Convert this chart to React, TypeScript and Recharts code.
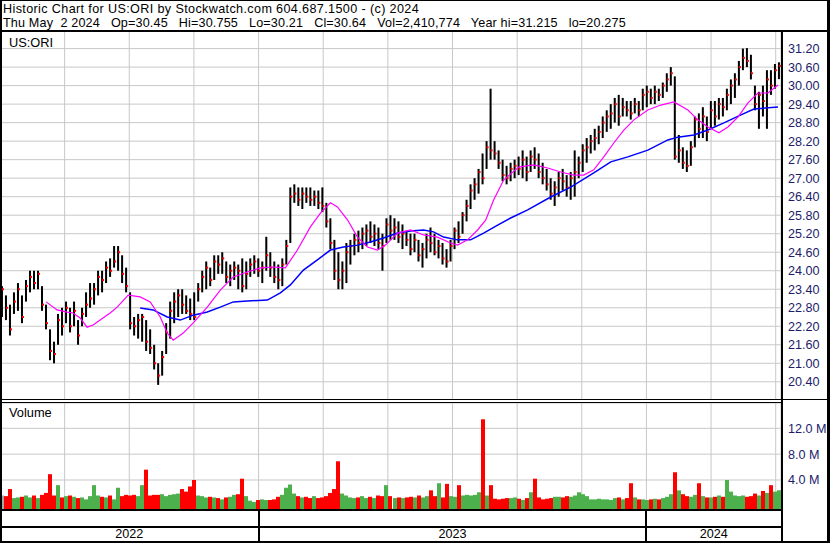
import React from 'react';
import { ComposedChart, Bar, Line, XAxis, YAxis, CartesianGrid } from 'recharts';

// US:ORI, May 2022 - May 2 2024, one bar per ~2.6 sessions
const highs = [
  23.5, 23.2, 22.9, 23.3, 23.6, 23.2, 23.7, 24.0, 24.0, 24.0,
  23.5, 22.9, 22.1, 21.7, 22.6, 22.8, 23.0, 22.8, 23.0, 22.4,
  22.8, 23.3, 23.6, 23.6, 24.0, 24.0, 24.3, 24.4, 24.8, 24.8,
  24.5, 24.1, 23.3, 22.5, 22.6, 22.6, 22.4, 22.1, 21.6, 21.0,
  21.4, 22.3, 23.0, 23.3, 23.4, 23.4, 23.2, 23.1, 23.3, 23.6,
  24.0, 24.3, 24.1, 24.5, 24.5, 24.6, 24.3, 24.2, 24.3, 24.2,
  24.4, 24.3, 24.4, 24.5, 24.4, 24.3, 25.1, 24.6, 24.3, 24.2,
  24.4, 25.0, 26.7, 26.8, 26.7, 26.7, 26.7, 26.7, 26.6, 26.6,
  26.7, 26.2, 25.7, 25.0, 24.6, 24.3, 24.9, 25.0, 25.2, 25.3,
  25.4, 25.5, 25.6, 25.5, 25.4, 25.2, 25.7, 25.8, 25.7, 25.6,
  25.5, 25.3, 25.2, 25.2, 25.0, 24.9, 25.2, 25.4, 25.2, 25.0,
  24.9, 24.7, 25.0, 25.4, 25.6, 25.9, 26.3, 26.8, 27.0, 27.3,
  27.8, 28.2, 29.9, 28.2, 27.9, 27.6, 27.4, 27.5, 27.6, 27.7,
  27.9, 27.7, 27.9, 28.0, 27.8, 27.5, 27.3, 27.0, 26.9, 27.2,
  27.3, 27.1, 27.2, 27.9, 27.7, 28.1, 28.3, 28.4, 28.6, 28.7,
  29.0, 29.2, 29.4, 29.6, 29.7, 29.6, 29.5, 29.5, 29.6, 29.5,
  29.9, 30.0, 29.9, 30.0, 29.9, 30.1, 30.4, 30.6, 30.3, 28.4,
  28.0, 27.9, 28.2, 29.0, 29.1, 29.3, 29.0, 29.5, 29.5, 29.6,
  29.6, 29.9, 30.2, 30.4, 30.8, 31.2, 31.215, 31.0, 30.0, 29.8,
  30.0, 30.5, 30.5, 30.7, 30.755,
];

const lows = [
  22.5, 22.4, 21.9, 22.6, 22.7, 22.3, 23.0, 23.3, 23.4, 23.4,
  22.7, 22.1, 21.1, 21.0, 21.6, 21.9, 22.3, 22.0, 22.2, 21.6,
  22.2, 22.5, 22.8, 22.9, 23.2, 23.3, 23.6, 23.8, 24.1, 24.0,
  23.6, 23.3, 22.1, 21.9, 21.8, 21.7, 21.4, 21.3, 20.8, 20.3,
  20.6, 21.3, 21.8, 22.3, 22.5, 22.6, 22.6, 22.4, 22.4, 23.0,
  23.3, 23.4, 23.5, 23.7, 23.9, 23.9, 23.6, 23.5, 23.7, 23.4,
  23.3, 23.4, 23.8, 23.9, 23.8, 23.6, 24.0, 23.8, 23.6, 23.4,
  23.5, 24.2, 24.9, 26.2, 26.1, 26.0, 26.2, 26.1, 26.1, 26.0,
  25.9, 25.4, 24.7, 23.7, 23.4, 23.4, 23.6, 24.2, 24.5, 24.6,
  24.7, 24.8, 24.9, 24.8, 24.7, 24.0, 24.9, 25.0, 25.0, 24.9,
  24.7, 24.8, 24.5, 24.6, 24.3, 24.1, 24.4, 24.6, 24.5, 24.4,
  24.2, 24.1, 24.3, 24.7, 24.9, 25.2, 25.6, 26.0, 26.3, 26.5,
  26.8, 27.3, 27.6, 27.6, 27.3, 26.9, 26.8, 26.9, 27.0, 27.1,
  27.0, 26.9, 27.2, 27.3, 27.0, 26.8, 26.6, 26.3, 26.1, 26.4,
  26.6, 26.4, 26.3, 26.4, 27.0, 27.2, 27.5, 27.8, 27.9, 28.1,
  28.3, 28.5, 28.6, 28.8, 28.7, 29.0, 29.0, 28.9, 29.1, 29.0,
  29.2, 29.3, 29.4, 29.4, 29.5, 29.6, 29.8, 30.0, 27.6, 27.5,
  27.3, 27.2, 27.4, 28.0, 28.3, 28.3, 28.2, 28.6, 28.7, 28.9,
  29.0, 29.2, 29.4, 29.6, 30.0, 30.5, 30.6, 30.2, 29.2, 28.6,
  29.0, 28.6, 29.7, 29.9, 30.21,
];

const closes = [
  23.4, 22.8, 22.1, 23.0, 23.4, 22.5, 23.5, 23.8, 23.6, 23.9,
  22.9, 22.3, 21.4, 21.3, 22.4, 22.2, 22.8, 22.2, 22.7, 21.9,
  22.6, 22.9, 23.1, 23.4, 23.8, 23.7, 24.1, 24.0, 24.3, 24.6,
  23.9, 23.5, 22.3, 22.2, 22.4, 22.5, 21.7, 21.5, 21.0, 20.6,
  21.2, 22.0, 22.7, 23.0, 23.2, 22.9, 22.7, 22.6, 22.5, 23.4,
  23.8, 24.1, 23.7, 24.3, 24.2, 24.4, 23.8, 24.0, 24.1, 24.0,
  23.5, 23.9, 24.2, 24.3, 24.0, 24.1, 24.5, 24.1, 23.8, 23.7,
  24.2, 24.8, 26.4, 26.5, 26.3, 26.5, 26.4, 26.3, 26.4, 26.2,
  26.1, 25.6, 24.9, 24.0, 23.7, 24.0, 24.6, 24.8, 25.0, 24.9,
  25.2, 25.3, 25.1, 25.2, 24.9, 24.8, 25.5, 25.3, 25.4, 25.1,
  25.2, 25.0, 24.7, 25.0, 24.5, 24.7, 25.0, 24.9, 24.6, 24.8,
  24.4, 24.3, 24.8, 25.3, 25.1, 25.8, 26.1, 26.6, 26.8, 27.2,
  27.0, 28.0, 27.9, 27.8, 27.5, 27.1, 27.0, 27.3, 27.4, 27.3,
  27.6, 27.2, 27.7, 27.6, 27.2, 27.0, 26.8, 26.5, 26.7, 27.0,
  26.9, 26.7, 27.0, 27.2, 27.5, 27.9, 28.0, 28.2, 28.3, 28.5,
  28.8, 29.0, 29.1, 29.4, 29.0, 29.3, 29.2, 29.1, 29.4, 29.2,
  29.7, 29.8, 29.6, 29.8, 29.7, 30.0, 30.2, 30.4, 27.7, 27.9,
  27.5, 27.4, 28.0, 28.9, 28.6, 29.0, 28.5, 29.2, 29.0, 29.4,
  29.3, 29.7, 30.0, 30.2, 30.6, 30.9, 30.8, 30.4, 29.4, 29.7,
  29.5, 30.2, 30.0, 30.5, 30.64,
];

// millions of shares
const volumes = [
  1.6, 1.5, 2.6, 1.2, 1.3, 1.4, 1.6, 1.3, 1.6, 1.2,
  1.7, 2.0, 4.9, 1.6, 3.2, 1.3, 1.5, 1.6, 1.4, 1.2,
  1.3, 1.0, 1.5, 3.2, 1.6, 1.4, 1.3, 1.6, 1.0, 2.8,
  1.5, 1.7, 1.6, 1.7, 1.5, 3.2, 5.6, 1.6, 1.7, 1.7,
  1.8, 1.5, 1.7, 1.8, 1.9, 2.6, 2.2, 3.0, 4.0, 1.6,
  1.5, 1.3, 1.4, 1.3, 1.2, 1.0, 1.3, 1.4, 1.7, 1.8,
  4.2, 1.5, 0.8, 0.6, 0.9, 1.0, 0.9, 0.9, 1.0, 1.4,
  1.7, 2.8, 3.3, 1.9, 1.5, 1.3, 1.4, 1.2, 1.5, 1.2,
  1.3, 1.5, 2.0, 2.6, 6.9, 1.9, 1.6, 1.3, 1.2, 1.3,
  1.5, 1.2, 1.4, 1.2, 1.6, 1.5, 3.2, 1.5, 1.2, 1.3,
  1.2, 1.3, 1.4, 1.3, 1.6, 1.3, 1.5, 2.4, 1.5, 3.5,
  1.3, 3.4, 1.5, 1.4, 3.2, 1.6, 1.7, 1.6, 1.7, 2.1,
  13.4, 1.6, 3.2, 1.1, 1.0, 1.1, 1.2, 1.2, 1.3, 1.1,
  0.9, 1.2, 2.1, 4.2, 1.3, 1.0, 1.1, 1.2, 1.4, 1.4,
  1.3, 1.5, 1.4, 1.6, 2.1, 1.8, 1.5, 1.0, 1.0, 1.1,
  1.0, 1.0, 0.9, 1.2, 1.3, 1.0, 1.2, 3.5, 1.3, 1.0,
  1.0, 0.9, 1.0, 1.1, 1.0, 1.2, 1.4, 1.8, 5.2, 2.4,
  1.8, 1.5, 1.4, 1.7, 3.5, 1.5, 1.3, 1.3, 1.4, 1.6,
  1.4, 4.0, 2.2, 1.6, 1.5, 1.6, 1.4, 1.5, 1.9, 1.6,
  2.3, 2.0, 3.2, 2.2, 2.41,
];

// moving averages, read as (bar position, value) pairs
const fastMaAt = [
  11.5, 14.25, 16.75, 18.25, 20, 21.75, 23.25, 25, 27.5, 29.25,
  32, 35, 37.5, 40, 41.75, 43.25, 45.75, 48.25, 51.75, 55,
  58.25, 61.75, 65, 68.25, 71.25, 74.25, 77.5, 80, 82.5, 84.25,
  86.75, 89.25, 91.75, 94.25, 96.25, 99.25, 102.5, 105.75, 109.25, 112.5,
  114.25, 116.75, 119.25, 121.25, 123.25, 125.75, 129.5, 133.25, 136.75, 140,
  143.25, 145.75, 148.25, 150.75, 153.25, 155.75, 158.25, 161.75, 165, 168.25,
  171.75, 174.25, 176.75, 179.5, 181.75, 184.25, 186.75, 189.25, 191.75, 194.25,
];
const fastMaValues = [
  22.99, 22.73, 22.66, 22.63, 22.47, 22.17, 22.24, 22.40, 22.63, 22.82,
  23.21, 23.15, 22.99, 22.50, 21.98, 21.75, 21.98, 22.31, 22.82, 23.37,
  23.80, 23.96, 24.09, 24.12, 24.09, 24.67, 25.42, 25.87, 26.20, 26.07,
  25.65, 25.09, 24.77, 24.67, 24.83, 25.22, 25.32, 25.16, 25.09, 24.90,
  24.83, 25.00, 25.32, 25.64, 26.29, 26.94, 27.36, 27.43, 27.33, 27.20,
  27.10, 27.10, 27.27, 27.69, 28.14, 28.56, 28.89, 29.21, 29.37, 29.47,
  29.21, 28.89, 28.66, 28.47, 28.66, 28.98, 29.44, 29.76, 29.76, 30.02,
];
const slowMaAt = [
  35, 38.25, 41.75, 45, 48.25, 51.75, 55, 58.25, 61.75, 66.75,
  70, 72.5, 75.75, 79.25, 82.5, 85.75, 89.25, 92.5, 95.75, 99.25,
  102.5, 105.75, 108.25, 110.75, 114.25, 117.5, 120.75, 124.25, 127.5, 131.75,
  137.5, 142.5, 148.25, 152.5, 156.75, 161.75, 166.75, 169.25, 173.25, 176.75,
  180.75, 185, 188.25, 194.25,
];
const slowMaValues = [
  22.79, 22.73, 22.50, 22.40, 22.56, 22.66, 22.82, 22.99, 23.02, 23.05,
  23.28, 23.54, 24.02, 24.35, 24.67, 24.77, 24.83, 24.93, 25.06, 25.22,
  25.29, 25.32, 25.26, 25.09, 25.00, 25.00, 25.22, 25.48, 25.71, 25.97,
  26.39, 26.71, 27.17, 27.53, 27.69, 27.91, 28.24, 28.33, 28.40, 28.56,
  28.79, 29.05, 29.24, 29.31,
];

const priceTicks = [20.4, 21.0, 21.6, 22.2, 22.8, 23.4, 24.0, 24.6, 25.2, 25.8, 26.4, 27.0, 27.6, 28.2, 28.8, 29.4, 30.0, 30.6, 31.2];
const volumeTicks = [4, 8, 12];
// month boundaries, in bar units
const monthTicks = [
  8.07, 16.14, 24.21, 32.28, 40.35, 48.42, 56.49, 64.56, 72.63, 80.7, 88.77, 96.84,
  104.91, 112.98, 121.05, 129.12, 137.19, 145.26, 153.33, 161.4, 169.47, 177.54, 185.61, 193.68,
];
const yearLabels = ['2022', '2023', '2024'];
const yearStarts = [0, 64.56, 161.4];

const headerTitle = 'Historic Chart for US:ORI by Stockwatch.com 604.687.1500 - (c) 2024';
const quoteLine = 'Thu May  2 2024   Op=30.45   Hi=30.755   Lo=30.21   Cl=30.64   Vol=2,410,774   Year hi=31.215   lo=20.275';

const PRICE_DOMAIN: [number, number] = [19.81, 31.77];
const VOL_FLOOR = -0.49;
const VOL_DOMAIN: [number, number] = [VOL_FLOOR, 15.92];

const BAR_COUNT = highs.length;
const PLOT_W = 781;
const AXIS_W = 49;
const FONT = '"Liberation Sans", Arial, sans-serif';

const bars = highs.map((high, i) => ({
  t: i + 0.5,
  high,
  low: lows[i],
  close: closes[i],
  volume: volumes[i],
  dir: i === 0 ? 0 : Math.sign(closes[i] - closes[i - 1]),
}));

const fastMa = fastMaAt.map((t, i) => ({ t, ma: fastMaValues[i] }));
const slowMa = slowMaAt.map((t, i) => ({ t, ma: slowMaValues[i] }));

const COLORS = {
  grid: '#c8c8c8',
  bar: '#000000',
  close: '#ff0000',
  up: '#4cb04c',
  down: '#ff0000',
  flat: '#a8a8a8',
  fastMa: '#ff00ff',
  slowMa: '#0000ff',
  axisText: '#1c1c6b',
};

const PriceBar = (props: any) => {
  const { x, y, width, height, payload } = props;
  if (x == null || y == null) return null;
  const cx = x + width / 2;
  const span = payload.high - payload.low;
  const cy = y + (span > 0 ? ((payload.high - payload.close) / span) * height : 0);
  return (
    <g>
      <rect x={cx - 1} y={y} width={2} height={Math.max(height, 1)} fill={COLORS.bar} />
      <rect x={cx} y={cy - 1} width={2} height={2} fill={COLORS.close} />
    </g>
  );
};

const VolumeBar = (props: any) => {
  const { x, y, width, height, payload } = props;
  if (x == null || y == null) return null;
  const cx = x + width / 2;
  const fill = payload.dir > 0 ? COLORS.up : payload.dir < 0 ? COLORS.down : COLORS.flat;
  return <rect x={Math.round(cx - 2)} y={y} width={4} height={height} fill={fill} />;
};

const xPx = (t: number) => (t / BAR_COUNT) * PLOT_W;

function Rule({ l, t, w, h }: { l: number; t: number; w: number; h: number }) {
  return <div style={{ position: 'absolute', left: l, top: t, width: w, height: h, background: '#000' }} />;
}

export default function App() {
  const textBase: React.CSSProperties = {
    position: 'absolute',
    fontFamily: FONT,
    fontSize: 12.6,
    lineHeight: '14px',
    whiteSpace: 'pre',
    color: '#000',
  };
  const yearEnds = [...yearStarts.slice(1), BAR_COUNT];

  return (
    <div
      style={{
        position: 'absolute',
        left: 0,
        top: 0,
        width: 830,
        height: 543,
        background: '#fff',
        overflow: 'hidden',
        fontFamily: FONT,
      }}
    >
      {/* header */}
      <div style={{ ...textBase, left: 3, top: 2, letterSpacing: 0.37 }}>{headerTitle}</div>
      <div style={{ ...textBase, left: 3, top: 16, letterSpacing: 0.16 }}>{quoteLine}</div>

      {/* price panel */}
      <div style={{ position: 'absolute', left: 0, top: 31 }}>
        <ComposedChart width={PLOT_W + AXIS_W} height={369} data={bars} margin={{ top: 0, right: 0, bottom: 0, left: 0 }}>
          <CartesianGrid stroke={COLORS.grid} strokeWidth={1} />
          <XAxis type="number" dataKey="t" domain={[0, BAR_COUNT]} ticks={monthTicks} allowDataOverflow hide />
          <YAxis
            orientation="right"
            type="number"
            width={AXIS_W}
            domain={PRICE_DOMAIN}
            allowDataOverflow
            ticks={priceTicks}
            interval={0}
            tickFormatter={(v: number) => v.toFixed(2)}
            axisLine={false}
            tickLine={false}
            tickSize={5}
            tickMargin={2}
            tick={{ fill: COLORS.axisText, fontSize: 12.6, fontFamily: FONT }}
          />
          <Bar dataKey={(d: any) => [d.low, d.high]} barSize={2} shape={PriceBar} isAnimationActive={false} />
          <Line data={slowMa} dataKey="ma" type="linear" stroke={COLORS.slowMa} strokeWidth={1.5} dot={false} isAnimationActive={false} />
          <Line data={fastMa} dataKey="ma" type="linear" stroke={COLORS.fastMa} strokeWidth={1.2} dot={false} isAnimationActive={false} />
        </ComposedChart>
      </div>
      <div style={{ ...textBase, left: 9, top: 36, fontSize: 12.8 }}>US:ORI</div>

      {/* volume panel */}
      <div style={{ position: 'absolute', left: 0, top: 403 }}>
        <ComposedChart width={PLOT_W + AXIS_W} height={106} data={bars} margin={{ top: 0, right: 0, bottom: 0, left: 0 }}>
          <CartesianGrid stroke={COLORS.grid} strokeWidth={1} />
          <XAxis type="number" dataKey="t" domain={[0, BAR_COUNT]} ticks={monthTicks} allowDataOverflow hide />
          <YAxis
            orientation="right"
            type="number"
            width={AXIS_W}
            domain={VOL_DOMAIN}
            allowDataOverflow
            ticks={volumeTicks}
            interval={0}
            tickFormatter={(v: number) => `${v.toFixed(1)} M`}
            axisLine={false}
            tickLine={false}
            tickSize={5}
            tickMargin={2}
            tick={{ fill: COLORS.axisText, fontSize: 12.6, fontFamily: FONT }}
          />
          <Bar dataKey={(d: any) => [VOL_FLOOR, d.volume]} barSize={4} shape={VolumeBar} isAnimationActive={false} />
        </ComposedChart>
      </div>
      <div style={{ ...textBase, left: 9, top: 406, fontSize: 12.8 }}>Volume</div>

      {/* year row */}
      {yearLabels.map((label, i) => (
        <div
          key={label}
          style={{
            position: 'absolute',
            left: xPx(yearStarts[i]),
            width: xPx(yearEnds[i]) - xPx(yearStarts[i]),
            top: 527,
            height: 14,
            lineHeight: '14px',
            textAlign: 'center',
            fontSize: 12.6,
            fontFamily: FONT,
          }}
        >
          {label}
        </div>
      ))}

      {/* frame */}
      <Rule l={0} t={0} w={830} h={1} />
      <Rule l={0} t={30} w={830} h={2} />
      <Rule l={0} t={0} w={2} h={543} />
      <Rule l={827} t={0} w={3} h={543} />
      <Rule l={781} t={31} w={2} h={512} />
      <Rule l={0} t={399} w={830} h={1} />
      <Rule l={0} t={402} w={781} h={1} />
      <Rule l={0} t={509} w={781} h={2} />
      <Rule l={0} t={526} w={781} h={2} />
      <Rule l={0} t={541} w={830} h={2} />
      {yearStarts.slice(1).map((t) => (
        <Rule key={t} l={Math.round(xPx(t)) - 1} t={510} w={2} h={32} />
      ))}
    </div>
  );
}
